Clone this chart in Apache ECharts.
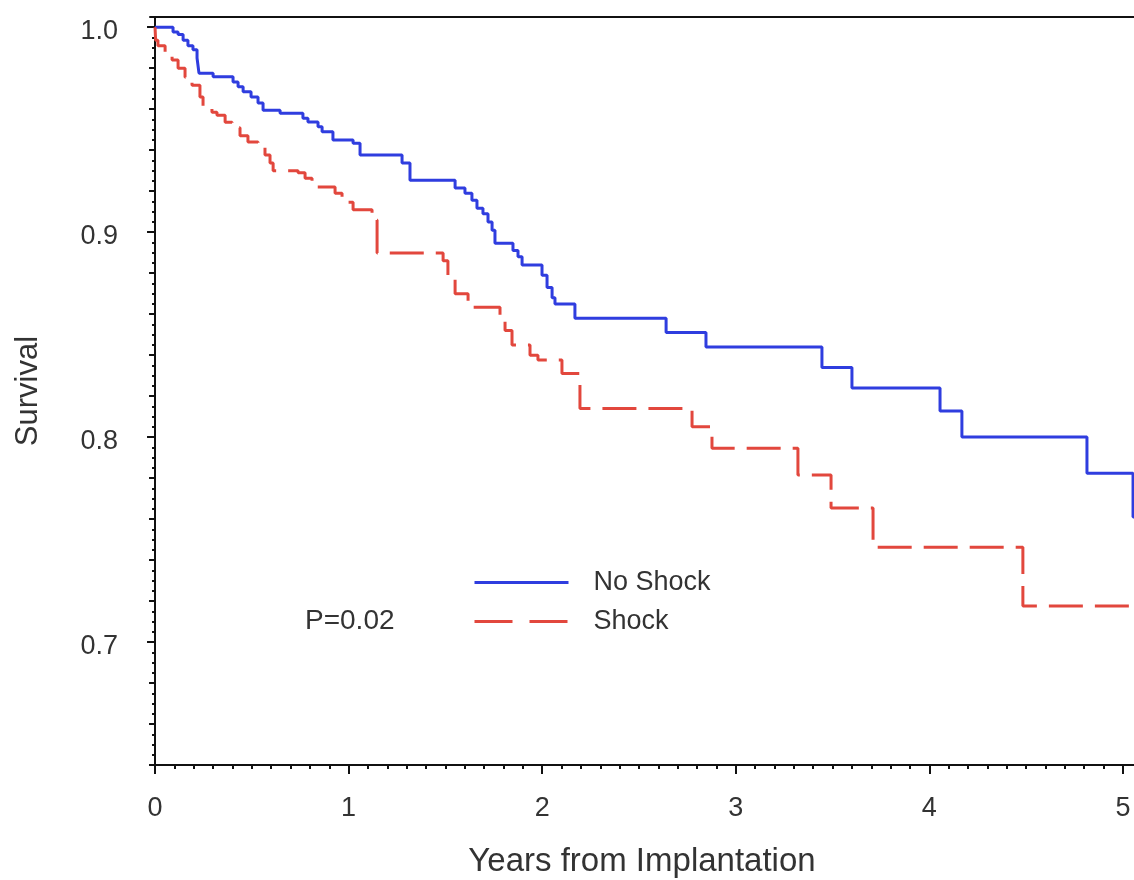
<!DOCTYPE html>
<html>
<head>
<meta charset="utf-8">
<script src="https://cdn.jsdelivr.net/npm/echarts@6/dist/echarts.min.js"></script>
<style>
html, body { margin: 0; padding: 0; background: #fff; }
#chart { width: 1134px; height: 880px; }
</style>
</head>
<body>
<div id="chart"></div>
<script>
// Kaplan-Meier steps (time in years, survival after the step)
var noShockTime = [0, 0.093, 0.119, 0.145, 0.170, 0.196, 0.217, 0.227, 0.300, 0.403, 0.429, 0.455, 0.496, 0.532, 0.558,
    0.646, 0.764, 0.790, 0.842, 0.863, 0.919, 1.023, 1.059, 1.276, 1.317, 1.550, 1.601, 1.637, 1.663, 1.694, 1.720,
    1.741, 1.756, 1.849, 1.875, 1.896, 1.999, 2.025, 2.051, 2.066, 2.169, 2.640, 2.846, 3.445, 3.600, 4.055, 4.168,
    4.814, 5.052, 5.057];
var noShockSurv = [1.0, 0.9977, 0.9964, 0.9937, 0.991, 0.989, 0.985, 0.9776, 0.9758, 0.9733, 0.971, 0.9685, 0.966, 0.963, 0.9595,
    0.958, 0.9556, 0.9538, 0.9514, 0.949, 0.945, 0.9434, 0.9376, 0.9337, 0.9254, 0.9215, 0.919, 0.9156, 0.9117, 0.909, 0.905,
    0.901, 0.8946, 0.891, 0.888, 0.884, 0.879, 0.873, 0.868, 0.865, 0.858, 0.851, 0.844, 0.834, 0.824, 0.8127, 0.80,
    0.7824, 0.761, 0.761];

var shockTime = [0, 0.003, 0.015, 0.052, 0.088, 0.119, 0.155, 0.191, 0.232, 0.248, 0.294, 0.320, 0.362, 0.398, 0.439,
    0.480, 0.532, 0.568, 0.594, 0.610, 0.739, 0.775, 0.811, 0.930, 0.966, 0.997, 1.023, 1.121, 1.147, 1.488, 1.513,
    1.550, 1.617, 1.782, 1.808, 1.844, 1.937, 1.978, 2.102, 2.195, 2.774, 2.877, 3.321, 3.492, 3.709, 4.483, 5.057];
var shockSurv = [1.0, 0.9937, 0.991, 0.988, 0.984, 0.980, 0.9756, 0.9717, 0.966, 0.961, 0.9585, 0.957, 0.9537, 0.951, 0.947,
    0.944, 0.9415, 0.9376, 0.9337, 0.930, 0.929, 0.9263, 0.922, 0.919, 0.917, 0.9146, 0.911, 0.906, 0.8898, 0.886, 0.878,
    0.870, 0.8634, 0.8585, 0.852, 0.845, 0.840, 0.8376, 0.831, 0.814, 0.805, 0.7946, 0.7815, 0.7654, 0.7463, 0.7176, 0.7176];

var seriesNames = ['No Shock', 'Shock'];
var xTickValues = [0, 1, 2, 3, 4, 5];
var yTickValues = [0.7, 0.8, 0.9, 1.0];
var pValueText = 'P=0.02';

function pairs(xs, ys) {
    var out = [];
    for (var i = 0; i < xs.length; i++) {
        out.push([xs[i], ys[i]]);
    }
    return out;
}

// evenly spaced tick positions for the minor ticks
function steps(from, to, step) {
    var out = [];
    var n = Math.round((to - from) / step);
    for (var i = 0; i <= n; i++) {
        out.push(Number((from + i * step).toFixed(4)));
    }
    return out;
}

var font = 'Liberation Sans, Arial, sans-serif';
var textColor = '#333';
var axisColor = '#111';
var blue = '#2f3ddf';
var red = '#e2473d';
var xMin = -0.026, xMax = 5.057;
var yMin = 0.64, yMax = 1.005;

var myChart = echarts.init(document.getElementById('chart'));

var option = {
    animation: false,
    backgroundColor: '#fff',
    grid: {
        left: 150,
        right: 0,
        top: 17,
        bottom: 115,
        outerBoundsMode: 'none'
    },
    legend: {
        orient: 'vertical',
        left: 468,
        top: 564,
        itemWidth: 94,
        itemHeight: 14,
        itemGap: 12,
        itemStyle: { opacity: 0 },
        textStyle: {
            fontSize: 27,
            color: textColor,
            fontFamily: font,
            padding: [0, 0, 0, 20]
        },
        data: [{
            name: seriesNames[0],
            lineStyle: { color: blue, width: 3 }
        }, {
            name: seriesNames[1],
            lineStyle: { color: red, width: 3, type: [38, 17] }
        }]
    },
    graphic: [{
        type: 'text',
        left: 305,
        top: 607,
        style: {
            text: pValueText,
            fontSize: 28,
            fontFamily: font,
            fill: textColor
        }
    }],
    xAxis: [{
        type: 'value',
        position: 'bottom',
        min: xMin,
        max: xMax,
        name: 'Years from Implantation',
        nameLocation: 'middle',
        nameGap: 80,
        nameTextStyle: {
            fontSize: 33,
            color: textColor,
            fontFamily: font
        },
        axisLine: { lineStyle: { color: axisColor, width: 2 } },
        axisTick: {
            customValues: xTickValues,
            length: 9,
            lineStyle: { color: axisColor, width: 2 }
        },
        axisLabel: {
            customValues: xTickValues,
            margin: 30,
            fontSize: 27,
            color: textColor,
            fontFamily: font
        },
        splitLine: { show: false }
    }, {
        // minor ticks every 0.1 year
        type: 'value',
        position: 'bottom',
        min: xMin,
        max: xMax,
        axisLine: { show: false },
        axisTick: {
            customValues: steps(0, 5, 0.1),
            length: 4,
            lineStyle: { color: axisColor, width: 2 }
        },
        axisLabel: { show: false },
        splitLine: { show: false }
    }, {
        // frame line along the top
        type: 'value',
        position: 'top',
        min: xMin,
        max: xMax,
        axisLine: { lineStyle: { color: axisColor, width: 2 } },
        axisTick: { show: false },
        axisLabel: { show: false },
        splitLine: { show: false }
    }],
    yAxis: [{
        type: 'value',
        position: 'left',
        min: yMin,
        max: yMax,
        name: 'Survival',
        nameLocation: 'middle',
        nameGap: 106,
        nameTextStyle: {
            fontSize: 31,
            color: textColor,
            fontFamily: font
        },
        axisLine: { lineStyle: { color: axisColor, width: 2 } },
        axisTick: {
            customValues: yTickValues,
            length: 8,
            lineStyle: { color: axisColor, width: 2 }
        },
        axisLabel: {
            customValues: yTickValues,
            margin: 32,
            fontSize: 27,
            color: textColor,
            fontFamily: font,
            verticalAlign: 'top',
            lineHeight: 9,
            formatter: function(v) {
                return v.toFixed(1);
            }
        },
        splitLine: { show: false }
    }, {
        type: 'value',
        position: 'left',
        min: yMin,
        max: yMax,
        axisLine: { show: false },
        axisTick: {
            customValues: steps(0.64, 1.0, 0.02),
            length: 6,
            lineStyle: { color: axisColor, width: 2 }
        },
        axisLabel: { show: false },
        splitLine: { show: false }
    }, {
        type: 'value',
        position: 'left',
        min: yMin,
        max: yMax,
        axisLine: { show: false },
        axisTick: {
            customValues: steps(0.64, 1.0, 0.005),
            length: 3,
            lineStyle: { color: axisColor, width: 2 }
        },
        axisLabel: { show: false },
        splitLine: { show: false }
    }],
    series: [{
        name: seriesNames[0],
        type: 'line',
        step: 'end',
        symbol: 'none',
        data: pairs(noShockTime, noShockSurv),
        itemStyle: { color: blue },
        lineStyle: { color: blue, width: 3 }
    }, {
        name: seriesNames[1],
        type: 'line',
        step: 'end',
        symbol: 'none',
        data: pairs(shockTime, shockSurv),
        itemStyle: { color: red },
        lineStyle: { color: red, width: 3, type: [34, 12] }
    }]
};

myChart.setOption(option);
</script>
</body>
</html>
